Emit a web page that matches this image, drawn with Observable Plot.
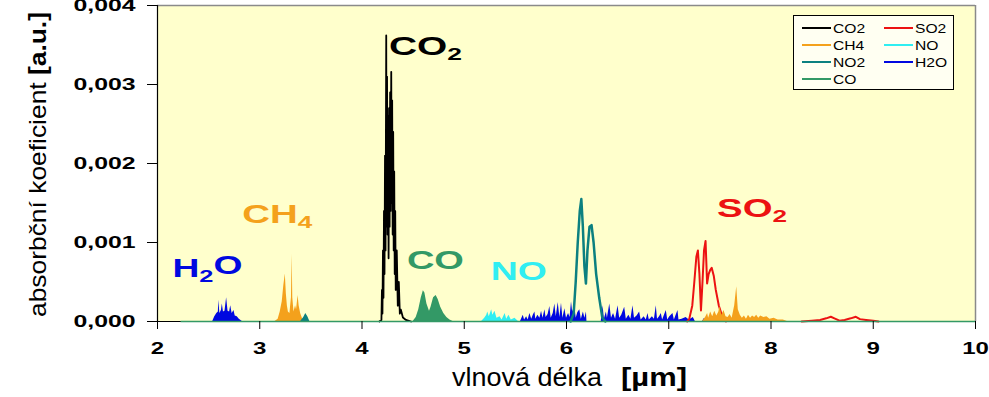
<!DOCTYPE html>
<html><head><meta charset="utf-8">
<script src="https://cdn.jsdelivr.net/npm/d3@7"></script>
<script src="https://cdn.jsdelivr.net/npm/@observablehq/plot@0.6"></script>
<style>
body{margin:0;background:#fff;}
#chart svg{display:block;}
</style>
</head><body><div id="chart"></div>
<script>
// ---------- data ----------
const xTicks = [2,3,4,5,6,7,8,9,10];
const yTicks = [0,0.001,0.002,0.003,0.004];
const xDomain = [2,10];
const yDomain = [0,0.004];
const baselineStart = [2.23];

const co2 = [[4.17,0],[4.19,0.00002],[4.195,0.0004],[4.20,0.0001],[4.205,0.0009],[4.21,0.0003],[4.215,0.0014],[4.22,0.0006],[4.225,0.0021],[4.23,0.0009],[4.235,0.0028],[4.237,0.00362],[4.24,0.0012],[4.245,0.0031],[4.25,0.0011],[4.255,0.0026],[4.26,0.0008],[4.265,0.0027],[4.27,0.0012],[4.275,0.0029],[4.28,0.0014],[4.286,0.00316],[4.29,0.0015],[4.295,0.0028],[4.30,0.0011],[4.305,0.0024],[4.31,0.0009],[4.315,0.0019],[4.32,0.0006],[4.325,0.0014],[4.33,0.0004],[4.34,0.0009],[4.35,0.0002],[4.36,0.0005],[4.37,0.0001],[4.38,0.00015],[4.40,0.00005],[4.43,0.00002],[4.48,0]];

const ch4a = [[3.15,0],[3.18,0.00003],[3.20,0.00012],[3.22,0.00025],[3.235,0.00045],[3.25,0.0006],[3.26,0.00035],[3.27,0.0002],[3.28,0.00012],[3.295,0.0001],[3.31,0.0003],[3.317,0.00085],[3.323,0.0003],[3.335,0.00012],[3.35,0.0002],[3.36,0.00015],[3.375,0.00033],[3.385,0.0002],[3.40,0.0001],[3.42,0.00003],[3.44,0]];
const ch4b = [[7.33,0],[7.36,0.00005],[7.38,0.0001],[7.39,0.00004],[7.41,0.00012],[7.43,0.00006],[7.45,0.00013],[7.47,0.00007],[7.49,0.00012],[7.50,0.00019],[7.52,0.00008],[7.54,0.00014],[7.56,0.00006],[7.58,0.00005],[7.60,0.00009],[7.62,0.00004],[7.645,0.0002],[7.665,0.00044],[7.68,0.00015],[7.70,0.00008],[7.72,0.00004],[7.74,0.00007],[7.76,0.00003],[7.78,0.00008],[7.80,0.00004],[7.82,0.00007],[7.84,0.00005],[7.86,0.00008],[7.88,0.00004],[7.90,0.00007],[7.93,0.00005],[7.96,0.00006],[7.99,0.00003],[8.03,0.00004],[8.07,0.00002],[8.12,0.00002],[8.16,0]];

const no2a = [[3.40,0],[3.43,0.00005],[3.45,0.0001],[3.47,0.00006],[3.49,0]];
const no2b = [[6.04,0],[6.07,0.0001],[6.09,0.0005],[6.11,0.0010],[6.13,0.0014],[6.145,0.00155],[6.16,0.0012],[6.175,0.0007],[6.19,0.00048],[6.205,0.0009],[6.225,0.0012],[6.245,0.00122],[6.265,0.0010],[6.29,0.0006],[6.32,0.0003],[6.35,0.00005],[6.38,0]];

const co = [[4.50,0],[4.53,0.00005],[4.555,0.00015],[4.58,0.0003],[4.60,0.00039],[4.615,0.00036],[4.635,0.00022],[4.66,0.00013],[4.675,0.00018],[4.70,0.0003],[4.725,0.00033],[4.745,0.00028],[4.77,0.00018],[4.80,0.0001],[4.83,0.00005],[4.86,0.00002],[4.89,0]];

const so2a = [[7.18,0],[7.20,0.00003],[7.23,0.0002],[7.25,0.0005],[7.27,0.00082],[7.285,0.0009],[7.30,0.0006],[7.315,0.00014],[7.33,0.0005],[7.345,0.0009],[7.36,0.00102],[7.375,0.00048],[7.39,0.0006],[7.405,0.00065],[7.42,0.00068],[7.44,0.00058],[7.46,0.0004],[7.49,0.0002],[7.52,0.00008],[7.56,0]];
const so2b = [[8.30,0],[8.40,0.00001],[8.48,0.00002],[8.54,0.00004],[8.585,0.00006],[8.62,0.00004],[8.67,0.00001],[8.72,0.00002],[8.78,0.00004],[8.83,0.00006],[8.87,0.00003],[8.93,0.00002],[9.00,0.00001],[9.05,0]];

const no = [[5.17,0],[5.20,0.00004],[5.22,0.00008],[5.23,0.00012],[5.245,0.00006],[5.268,0.00015],[5.28,0.00008],[5.30,0.00013],[5.32,0.00004],[5.35,0.00006],[5.37,0.00002],[5.40,0.0001],[5.415,0.00003],[5.437,0.00008],[5.46,0.00002],[5.496,0.00004],[5.53,0]];

const h2oa = [[2.54,0],[2.56,0.00006],[2.58,0.0001],[2.595,0.00012],[2.60,0.00027],[2.61,0.0001],[2.625,0.00014],[2.634,0.00022],[2.645,0.00012],[2.66,0.00013],[2.676,0.0003],[2.69,0.00013],[2.705,0.00012],[2.716,0.0002],[2.73,0.0001],[2.748,0.00014],[2.76,0.00007],[2.78,0.00006],[2.80,0.00003],[2.83,0]];
const h2ob = [[5.55,0],[5.577,0.00008],[5.59,0.00002],[5.61,0.00006],[5.625,0.00002],[5.642,0.0001],[5.66,0.00003],[5.675,0.00008],[5.691,0.00012],[5.70,0.00003],[5.72,0.00008],[5.74,0.00004],[5.756,0.00013],[5.77,0.00004],[5.789,0.00015],[5.80,0.00005],[5.82,0.00009],[5.837,0.00019],[5.85,0.00004],[5.87,0.0001],[5.886,0.00022],[5.90,0.00006],[5.919,0.00024],[5.935,0.00005],[5.951,0.00023],[5.965,0.00004],[5.984,0.00016],[6.00,0.00004],[6.02,0.0001],[6.035,0.00005],[6.049,0.00025],[6.06,0.00012],[6.081,0.0002],[6.095,0.00004],[6.11,0.00011],[6.13,0.00015],[6.145,0.00003],[6.165,0.00012],[6.18,0.00004],[6.195,0.00012],[6.20,0],[6.34,0],[6.358,0.0002],[6.37,0.00003],[6.39,0.00012],[6.40,0.00004],[6.423,0.00022],[6.44,0.00004],[6.46,0.0001],[6.48,0.00003],[6.504,0.0002],[6.52,0.00004],[6.54,0.00008],[6.569,0.00018],[6.585,0.00003],[6.61,0.00008],[6.63,0.00003],[6.65,0.0002],[6.665,0.00004],[6.69,0.00007],[6.715,0.00012],[6.73,0.00002],[6.76,0.00006],[6.78,0.00002],[6.797,0.0001],[6.81,0.00002],[6.84,0.00006],[6.86,0.00003],[6.878,0.0002],[6.89,0.00003],[6.91,0.00006],[6.927,0.0001],[6.94,0.00002],[6.976,0.00014],[6.99,0.00002],[7.01,0.00006],[7.041,0.0001],[7.055,0.00002],[7.09,0.00014],[7.10,0.00002],[7.13,0.00003],[7.17,0.00005],[7.20,0.00002],[7.24,0.00005],[7.26,0],[7.33,0],[7.35,0.00004],[7.37,0]];

const legendItems = ["CO2","CH4","NO2","CO","SO2","NO","H2O"];
const gasLabels = ["H2O","CH4","CO2","CO","NO","SO2"];
const gasLabelX = [2.146,2.83,4.263,4.439,5.259,7.473];
const gasLabelY = [0.00067,0.00135,0.00348,0.00076,0.00063,0.00143];
const xTitle = ["vlnová délka", "[µm]"];
const yTitle = ["absorbční koeficient ", "[a.u.]"];

// ---------- styles ----------
const FONT = "'Liberation Sans', Arial, sans-serif";
const colors = {CO2:"#000000", SO2:"#EC1212", CH4:"#F4A11C", NO:"#30EEF2", NO2:"#0C8080", H2O:"#0008E0", CO:"#339966"};
const labelWidths = {H2O:70, CH4:70, CO2:73, CO:57, NO:56, SO2:70};

const rows = a => a.map(([x,y]) => ({x,y}));
const labelRows = gasLabels.map((t,i)=>({t, x:gasLabelX[i], y:gasLabelY[i]}));

const chart = Plot.plot({
  width: 989, height: 397,
  marginLeft: 157, marginRight: 14, marginTop: 5, marginBottom: 76,
  x: {domain: xDomain},
  y: {domain: yDomain},
  style: {fontFamily: FONT, background: "#fff", overflow: "visible"},
  marks: [
    Plot.frame({fill: "#FFFFCC", stroke: null}),
    Plot.ruleY([yDomain[1]], {stroke: "#8a8a8a", strokeWidth: 1.5}),
    Plot.ruleX([xDomain[1]], {stroke: "#8a8a8a", strokeWidth: 1.5}),
    Plot.areaY(rows(h2oa), {x:"x", y:"y", fill: colors.H2O}),
    Plot.areaY(rows(h2ob), {x:"x", y:"y", fill: colors.H2O}),
    Plot.areaY(rows(ch4a), {x:"x", y:"y", fill: colors.CH4}),
    Plot.areaY(rows(co), {x:"x", y:"y", fill: colors.CO}),
    Plot.areaY(rows(no), {x:"x", y:"y", fill: colors.NO}),
    Plot.areaY(rows(no2a), {x:"x", y:"y", fill: colors.NO2}),
    Plot.line(rows(so2a), {x:"x", y:"y", stroke: colors.SO2, strokeWidth: 2}),
    Plot.line(rows(so2b), {x:"x", y:"y", stroke: colors.SO2, strokeWidth: 2}),
    Plot.areaY(rows(ch4b), {x:"x", y:"y", fill: colors.CH4}),
    Plot.line(rows(no2b), {x:"x", y:"y", stroke: colors.NO2, strokeWidth: 2.5}),
    Plot.line(rows(co2), {x:"x", y:"y", stroke: colors.CO2, strokeWidth: 1.8}),
    Plot.ruleY([0], {stroke: "#000", strokeWidth: 1.2}),
    Plot.ruleY([0], {x1: baselineStart[0], x2: xDomain[1], stroke: colors.CO, strokeWidth: 1.5}),
    Plot.ruleX([xDomain[0]], {stroke: "#000", strokeWidth: 1.2}),
    Plot.axisX({ticks: xTicks, tickSize: 8, tickPadding: 13, label: null, fontSize: 16, fontWeight: "bold", tickFormat: d => String(d), className: "xax"}),
    Plot.axisY({ticks: yTicks, tickSize: 10, tickPadding: 12, label: null, fontSize: 16, fontWeight: "bold", tickFormat: d => d3.format(".3f")(d).replace(".", ","), className: "yax"}),
    Plot.text(labelRows, {x:"x", y:"y", text:"t", fill: d => colors[d.t], fontSize: 25, fontWeight: "bold", textAnchor: "start", lineAnchor: "middle", className: "gaslab"})
  ]
});
document.getElementById("chart").appendChild(chart);

const svg = d3.select(chart);
function stretch(sel, f) {
  sel.each(function(){ const w = this.getComputedTextLength(); this.setAttribute("textLength", w*f); this.setAttribute("lengthAdjust","spacingAndGlyphs"); });
}
svg.selectAll(".yax text").attr("fill","#000");
svg.selectAll(".xax text").attr("fill","#000");
stretch(svg.selectAll(".yax text"), 1.55);
stretch(svg.selectAll(".xax text"), 1.5);

// subscripts in gas labels
svg.selectAll(".gaslab text").each(function(){
  const t = this.textContent; const el = d3.select(this); el.text("");
  let shifted = false;
  for (const ch of t) {
    const isDigit = /[0-9]/.test(ch);
    const ts = el.append("tspan").text(ch);
    if (isDigit && !shifted) { ts.attr("font-size", "0.68em").attr("dy", "0.3em"); shifted = true; }
    else if (!isDigit && shifted) { ts.attr("dy", "-0.3em"); shifted = false; }
  }
  this.setAttribute("textLength", labelWidths[t]);
  this.setAttribute("lengthAdjust", "spacingAndGlyphs");
});

// axis titles
const xt = svg.append("text").attr("x", 452).attr("y", 386).attr("text-anchor", "start").attr("font-family", FONT).attr("font-size", 26).attr("fill", "#000");
xt.append("tspan").text(xTitle[0]);
xt.attr("textLength", 150).attr("lengthAdjust", "spacingAndGlyphs");
svg.append("text").attr("x", 621).attr("y", 386).attr("text-anchor", "start").attr("font-family", FONT).attr("font-size", 26).attr("font-weight", "bold").attr("fill", "#000")
  .attr("textLength", 66).attr("lengthAdjust", "spacingAndGlyphs").text(xTitle[1]);

const yt = svg.append("text").attr("transform", "translate(46,164.5) rotate(-90)").attr("text-anchor", "middle")
  .attr("font-family", FONT).attr("font-size", 24).attr("fill", "#000");
yt.append("tspan").text(yTitle[0]);
yt.append("tspan").attr("font-weight", "bold").text(yTitle[1]);
yt.attr("textLength", 305).attr("lengthAdjust", "spacingAndGlyphs");

// legend
const lg = svg.append("g").attr("font-family", FONT).attr("font-size", 12.5).attr("text-anchor", "start");
lg.append("rect").attr("x", 793.5).attr("y", 15.5).attr("width", 160).attr("height", 74).attr("fill", "#FFFFF2").attr("stroke", "#000");
legendItems.forEach((name, i) => {
  const col = i < 4 ? 0 : 1, row = i < 4 ? i : i - 4;
  const lx = [802, 884][col], ly = [28, 45, 62, 79][row];
  lg.append("line").attr("x1", lx).attr("x2", lx + 29).attr("y1", ly).attr("y2", ly).attr("stroke", colors[name]).attr("stroke-width", 2);
  const tx = lg.append("text").attr("x", lx + 31).attr("y", ly).attr("dy", "0.36em").attr("text-anchor", "start").attr("fill", "#000").text(name);
  stretch(tx, 1.25);
});
</script></body></html>
